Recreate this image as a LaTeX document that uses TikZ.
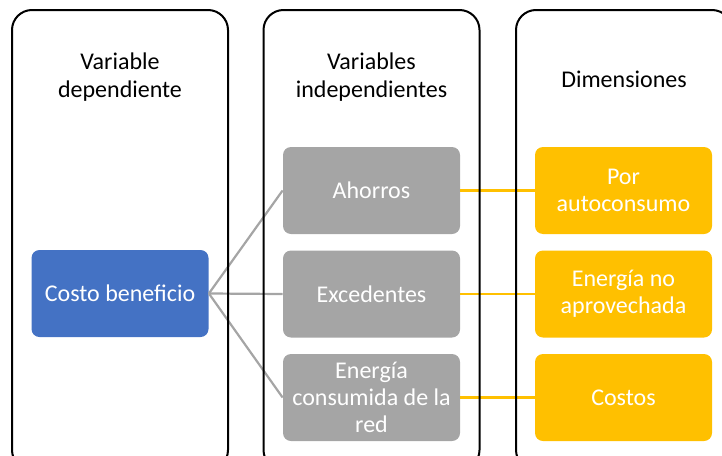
\documentclass[tikz,border=0pt]{standalone}
\usepackage{fontspec}
\setmainfont{Carlito}
\usetikzlibrary{positioning}
\definecolor{boxblue}{HTML}{4472C4}
\definecolor{boxgray}{HTML}{A5A5A5}
\definecolor{boxgold}{HTML}{FFC000}

\begin{document}
\begin{tikzpicture}
        [x=0.5pt, y=-0.5pt,
        every node/.style={font=\fontsize{12}{13.6}\selectfont, align=center, inner sep=0pt},
        column/.style={draw=black, line width=1pt, rounded corners=10pt,
          minimum width=108pt, minimum height=230pt},
        header/.style={text=black},
        item/.style={rounded corners=4pt, text=white,
          minimum width=88.5pt, minimum height=43.5pt},
        bluebox/.style={item, fill=boxblue},
        graybox/.style={item, fill=boxgray},
        goldbox/.style={item, fill=boxgold},
        grayline/.style={draw=boxgray, line width=1.1pt},
        goldline/.style={draw=boxgold, line width=1.1pt}]
        \useasboundingbox (0,0) rectangle (722,455);
        % colored boxes
        \node (costo) at (120,293.5) [bluebox] {Costo beneficio};
        \node (ahorros) at (371.5,190.5) [graybox] {Ahorros};
        \node (excedentes) at (371.5,294) [graybox] {Excedentes};
        \node (red) at (371.5,397.5) [graybox] {Energía\\consumida de la\\red};
        \node (autoconsumo) at (623.5,190.5) [goldbox] {Por\\autoconsumo};
        \node (noaprov) at (623.5,294) [goldbox] {Energía no\\aprovechada};
        \node (costos) at (623.5,397.5) [goldbox] {Costos};
        % connectors
        \foreach \target in {ahorros, excedentes, red}
           \draw[grayline] (costo.east) -- (\target.west);
        \draw[goldline] (ahorros.east) -- (autoconsumo.west);
        \draw[goldline] (excedentes.east) -- (noaprov.west);
        \draw[goldline] (red.east) -- (costos.west);
        % columns and headers
        \node (dep) at (120,240) [column] {};
        \node (indep) at (371.5,240) [column] {};
        \node (dim) at (624,240) [column] {};
        \node (dephead) at (120,77) [header] {Variable\\dependiente};
        \node (indephead) at (371.5,77) [header] {Variables\\independientes};
        \node (dimhead) at (624,79) [header] {Dimensiones};
\end{tikzpicture}
\end{document}
